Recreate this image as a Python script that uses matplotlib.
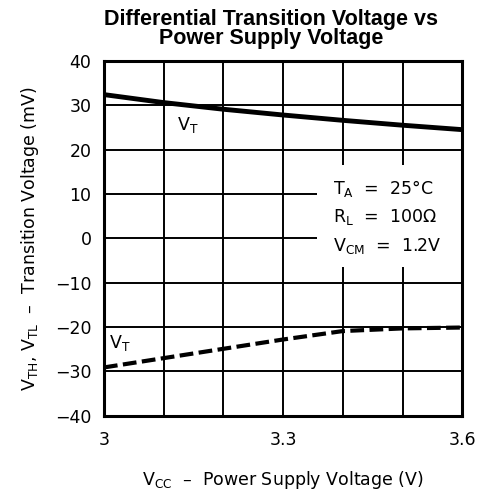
import matplotlib
matplotlib.use('Agg')
import matplotlib.pyplot as plt
from matplotlib.patches import Rectangle

# Supply voltage (V)
vcc = [3.0, 3.1, 3.2, 3.3, 3.4, 3.5, 3.6]
# Upper threshold V_TH (mV), solid curve
vth = [32.4, 30.6, 29.1, 27.8, 26.6, 25.5, 24.5]
# Lower threshold V_TL (mV), dashed curve
vtl = [-29.1, -27.0, -24.9, -22.8, -20.9, -20.3, -20.1]

xticks = [3.0, 3.3, 3.6]
xtick_labels = ['3', '3.3', '3.6']
yticks = [-40, -30, -20, -10, 0, 10, 20, 30, 40]

plt.rcParams['font.family'] = ['DejaVu Sans']
plt.rcParams['mathtext.default'] = 'regular'

fig = plt.figure(figsize=(4.79, 4.95), dpi=100)
ax = fig.add_axes([0.217, 0.160, 0.748, 0.717])

ax.plot(vcc, vth, color='black', lw=3.5, solid_capstyle='butt', zorder=3)
ax.plot(vcc, vtl, color='black', lw=3, dashes=(3.3, 1.3), zorder=3)

ax.set_xlim(3.0, 3.6)
ax.set_ylim(-40, 40)
ax.set_xticks(xticks)
ax.set_xticklabels(xtick_labels)
ax.set_xticks([3.1, 3.2, 3.4, 3.5], minor=True)
ax.set_yticks(yticks)
ax.grid(True, which='both', color='black', lw=1.4)
ax.set_axisbelow(True)
ax.tick_params(which='both', length=0, labelsize=12.5)
ax.tick_params(axis='x', pad=11)
ax.tick_params(axis='y', pad=9)
for s in ax.spines.values():
    s.set_linewidth(2.2)

# white box behind the conditions text
ax.add_patch(Rectangle((0.595, 0.42), 0.405, 0.287, transform=ax.transAxes,
                       facecolor='white', edgecolor='none', zorder=1.8))
ax.text(0.638, 0.64, 'T$_A$  =  25°C', transform=ax.transAxes, fontsize=12.5, va='center')
ax.text(0.638, 0.56, 'R$_L$  =  100Ω', transform=ax.transAxes, fontsize=12.5, va='center')
ax.text(0.638, 0.478, 'V$_{CM}$  =  1.2V', transform=ax.transAxes, fontsize=12.5, va='center')

ax.text(3.14, 25.5, 'V$_T$', fontsize=12.5, ha='center', va='center')
ax.text(3.027, -23.5, 'V$_T$', fontsize=12.5, ha='center', va='center')

ax.set_xlabel('V$_{CC}$  –  Power Supply Voltage (V)', fontsize=12.5, labelpad=14)
ax.set_ylabel('V$_{TH}$, V$_{TL}$  –  Transition Voltage (mV)', fontsize=12.5, labelpad=10)

fig.text(0.566, 0.982, 'Differential Transition Voltage vs\nPower Supply Voltage',
         ha='center', va='top', fontsize=15.5, fontweight='bold',
         family='Liberation Sans', linespacing=0.88)

fig.savefig('out.png', dpi=100)
